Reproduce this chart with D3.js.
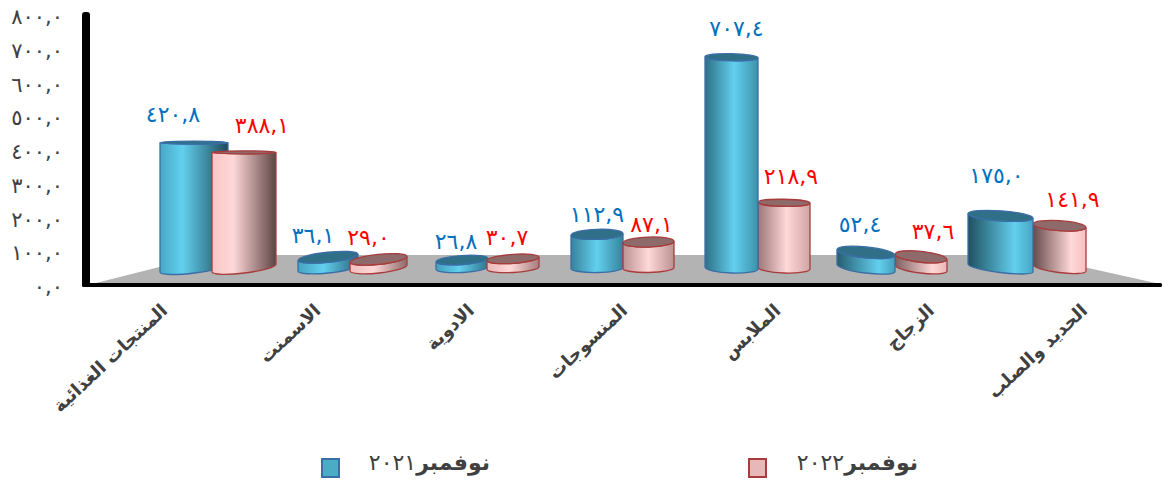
<!DOCTYPE html>
<html lang="ar"><head><meta charset="utf-8">
<script src="https://cdn.jsdelivr.net/npm/d3@7"></script>
<style>html,body{margin:0;background:#fff}svg{display:block}text{font-family:"DejaVu Sans",sans-serif}</style>
</head><body><svg id="c" width="1164" height="481"></svg>
<script>
const categories=["المنتجات الغذائية","الاسمنت","الادوية","المنسوجات","الملابس","الزجاج","الحديد والصلب"];
const seriesWord="نوفمبر";
const seriesYears=["٢٠٢١","٢٠٢٢"];
const values2021=[420.8,36.1,26.8,112.9,707.4,52.4,175.0];
const values2022=[388.1,29.0,30.7,87.1,218.9,37.6,141.9];
const ticks=[0,100,200,300,400,500,600,700,800];

const svg=d3.select("#c"),defs=svg.append("defs");
const idx=d3.range(7);
const ar=s=>s.replace(/[0-9]/g,d=>"٠١٢٣٤٥٦٧٨٩"[d]);
const fmt=v=>ar(v.toFixed(1)).replace(".",",");
const y=d3.scaleLinear([0,800],[268,29.6]);
const gs=(r)=>d3.scaleLinear().domain(idx).range(r);
const L=[gs([160,298,436,571,705,837,968]),gs([212,350,487,623,758,895,1033])];
const R=[gs([228,358,488,623,758,895,1033]),gs([276,407,539,674,810,947,1086])];
const topTilt=gs([0,-6,-4,-2,1,6,4]),baseTilt=gs([-7,-6,-3,-1,2,7,7]);
const topRy=gs([1.5,5,4.5,5,3.5,5.5,5]),baseRy=gs([5,5,4.5,4.5,5,5,4.5]);
const hi=gs([.33,.42,.45,.5,.55,.72,.72]);
const leftShade=gs([0,.05,.1,.4,.6,.8,.95]),rightShade=gs([1,.7,.55,.4,.25,.1,.03]);
const palettes=[
 {base:"#48a8c6",light:"#62d0ef",dark:"#1d4a5a",stroke:"#3a6ea5",top:"#2f7088",sw:"#4bacc6"},
 {base:"#f9c4c4",light:"#ffd8d8",dark:"#5e4444",stroke:"#a83c3c",top:"#8f6a6a",sw:"#e6b9b8"}];
const mix=(a,b,t)=>d3.interpolateRgb(a,b)(t);

function drawCyl(g,s,i,v){
  const p=palettes[s],xl=L[s](i),xr=R[s](i),rx=(xr-xl)/2;
  const yt=y(v),yb=y(0),tt=topTilt(i),bt=baseTilt(i),tr=topRy(i),br=baseRy(i);
  const tdy=rx*Math.tan(tt*Math.PI/180),bdy=rx*Math.tan(bt*Math.PI/180);
  const id=`g${s}${i}`;
  const gr=defs.append("linearGradient").attr("id",id);
  [[0,mix(p.base,p.dark,leftShade(i))],[hi(i),p.light],[1,mix(p.base,p.dark,rightShade(i))]]
    .forEach(([o,c])=>gr.append("stop").attr("offset",o).attr("stop-color",c));
  g.append("path").attr("fill",`url(#${id})`).attr("stroke",p.stroke).attr("stroke-width",1.3)
   .attr("d",`M${xl},${yt-tdy} L${xl},${yb-bdy} A${rx},${br} ${bt} 0 0 ${xr},${yb+bdy} L${xr},${yt+tdy} A${rx},${tr} ${tt} 0 1 ${xl},${yt-tdy}Z`);
  g.append("ellipse").attr("cx",0).attr("cy",0).attr("rx",rx).attr("ry",tr)
   .attr("transform",`translate(${(xl+xr)/2},${yt}) rotate(${tt})`)
   .attr("fill",p.top).attr("stroke",p.stroke).attr("stroke-width",1.3);
}

// floor, walls
svg.append("path").attr("fill","#b3b3b3").attr("d","M92,284L207,255L1030,255L1160,284Z");
svg.append("rect").attr("x",82).attr("y",12).attr("width",8).attr("height",275).attr("rx",3).attr("fill","#000");
svg.append("rect").attr("x",82).attr("y",283).attr("width",1080).attr("height",4).attr("rx",1.5).attr("fill","#000");

const g=svg.append("g");
idx.forEach(i=>{ if(i<4){drawCyl(g,0,i,values2021[i]);drawCyl(g,1,i,values2022[i]);}
                 else{drawCyl(g,1,i,values2022[i]);drawCyl(g,0,i,values2021[i]);} });

// value labels
const nudge=[[[-21,-28],[18,-27]],[[-15,-22],[-10,-22]],[[-6,-19],[-6,-21]],[[0,-20],[3,-18]],[[5,-29],[7,-26]],[[-6,-28],[12,-25]],[[-4,-40],[13,-26]]];
[values2021,values2022].forEach((vals,s)=>vals.forEach((v,i)=>{
  svg.append("text").attr("x",(L[s](i)+R[s](i))/2+nudge[i][s][0]).attr("y",y(v)+nudge[i][s][1])
    .attr("text-anchor","middle").attr("dominant-baseline","central").attr("direction","ltr")
    .attr("font-size",22).attr("letter-spacing",1.8)
    .attr("fill",s?"#ff0000":"#0070c0").text(fmt(v));
}));

// value axis
const axisScale=d3.scaleLinear([0,800],[287,17]);
const ax=svg.append("g").attr("transform","translate(63,0)")
  .call(d3.axisLeft(axisScale).tickValues(ticks).tickSize(0).tickPadding(0).tickFormat(fmt));
ax.select(".domain").remove();
ax.selectAll("text").attr("font-size",21).attr("letter-spacing",1.8).attr("fill","#404040").attr("direction","ltr");

// categories
const cx=d3.scalePoint(categories,[168,1088]);
const catAxis=svg.append("g").attr("transform","translate(0,312)")
  .call(d3.axisBottom(cx).tickSize(0).tickPadding(0));
catAxis.select(".domain").remove();
catAxis.selectAll("text").attr("font-size",18).attr("font-weight","bold").attr("fill","#404040")
  .attr("direction","rtl").attr("text-anchor","start").attr("dy",0).attr("y",0)
  .attr("transform","rotate(-43)");

// legend
const lx=[322,749],tx=[490,918];
seriesYears.forEach((n,s)=>{
  svg.append("rect").attr("x",lx[s]).attr("y",459).attr("width",17).attr("height",18)
    .attr("fill",palettes[s].sw).attr("stroke",palettes[s].stroke).attr("stroke-width",2);
  const t=svg.append("text").attr("x",tx[s]).attr("y",462).attr("dominant-baseline","central")
    .attr("direction","rtl").attr("text-anchor","start").attr("font-size",22)
    .attr("fill","#404040");
  t.append("tspan").attr("font-weight","bold").text(seriesWord);
  t.append("tspan").attr("letter-spacing",9).text(n);
});
</script></body></html>
